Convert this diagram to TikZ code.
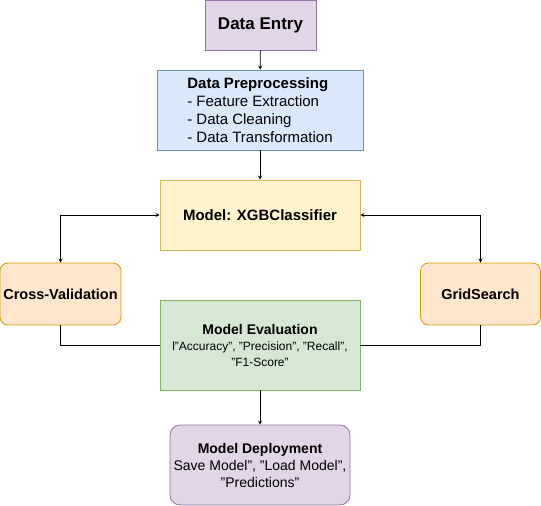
\documentclass[tikz,border=0pt]{standalone}
\usepackage{fontspec}
\setmainfont{Liberation Sans}
\usepackage{xcolor}
\usetikzlibrary{arrows,positioning,calc}

\definecolor{purplefill}{HTML}{E1D5E7}
\definecolor{purpleline}{HTML}{9673A6}
\definecolor{bluefill}{HTML}{DAE8FC}
\definecolor{blueline}{HTML}{6C8EBF}
\definecolor{yellowfill}{HTML}{FFF2CC}
\definecolor{yellowline}{HTML}{D6B656}
\definecolor{orangefill}{HTML}{FFE6CC}
\definecolor{orangeline}{HTML}{D79B00}
\definecolor{greenfill}{HTML}{D5E8D4}
\definecolor{greenline}{HTML}{82B366}

\begin{document}
\begin{tikzpicture}[
    x=1pt, y=-1pt,
    box/.style={rectangle, draw, line width=0.8pt, align=center, font=\fontsize{12}{16}\selectfont},
    entrybox/.style={box, fill=purplefill, draw=purpleline, font=\fontsize{17}{20}\selectfont\bfseries},
    prepbox/.style={box, fill=bluefill, draw=blueline, align=left, font=\fontsize{15}{18}\selectfont},
    modelbox/.style={box, fill=yellowfill, draw=yellowline, font=\fontsize{15}{18}\selectfont\bfseries},
    tunebox/.style={box, rounded corners=8pt, fill=orangefill, draw=orangeline, font=\fontsize{14.5}{17}\selectfont\bfseries},
    evalbox/.style={box, fill=greenfill, draw=greenline, font=\fontsize{12}{16}\selectfont},
    deploybox/.style={box, rounded corners=10pt, fill=purplefill, draw=purpleline, font=\fontsize{14}{17}\selectfont},
    arrow/.style={->, line width=0.8pt, >=stealth},
    link/.style={line width=0.8pt},
]
    \useasboundingbox (0,0) rectangle (541,506);

    % Main pipeline
    \node[entrybox, minimum width=111pt, minimum height=50pt] (entry) at (260.5,25) {Data Entry};
    \node[prepbox, minimum width=206pt, minimum height=80pt] (prep) at (260,110) {\textbf{Data Preprocessing}\\- Feature Extraction\\- Data Cleaning\\- Data Transformation};
    \node[modelbox, minimum width=200pt, minimum height=70pt] (model) at (260,215) {Model: XGBClassifier};
    \node[evalbox, minimum width=200pt, minimum height=90pt] (eval) at (260,345) {{\fontsize{14}{16}\selectfont\bfseries Model Evaluation}\\l"Accuracy", "Precision", "Recall",\\"F1-Score"};
    \node[deploybox, minimum width=180pt, minimum height=80pt] (deploy) at (260,465) {\textbf{Model Deployment}\\Save Model", "Load Model",\\"Predictions"};

    % Tuning boxes
    \node[tunebox, minimum width=120pt, minimum height=62pt] (cv) at (60.5,294) {Cross-Validation};
    \node[tunebox, minimum width=120pt, minimum height=62pt] (grid) at (480.5,294) {GridSearch};

    % Arrows
    \draw[arrow] (entry) -- (prep);
    \draw[arrow] (prep) -- (model);
    \draw[arrow] (eval) -- (deploy);
    \draw[arrow, <->] (cv.north) |- (model.west);
    \draw[arrow, <->] (grid.north) |- (model.east);
    \draw[link] (cv.south) |- (eval.west);
    \draw[link] (grid.south) |- (eval.east);
\end{tikzpicture}
\end{document}
